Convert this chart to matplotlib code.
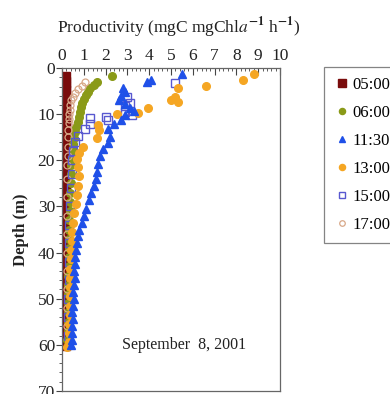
import matplotlib
matplotlib.use("Agg")
import matplotlib.pyplot as plt
from matplotlib.ticker import MultipleLocator

plt.rcParams['font.family'] = ['Liberation Serif', 'DejaVu Serif']
plt.rcParams['mathtext.fontset'] = 'stix'

# depth (m) and productivity (mgC mgChla-1 h-1) for each sampling time
d0500 = [2, 3, 4, 5, 6, 7, 8, 9, 10, 11, 12, 13, 14, 15, 16, 17, 18, 19, 20, 21,
         22, 23, 24, 25, 26, 27, 28, 29, 30, 31, 32, 33, 34, 35, 36, 37, 38, 39, 40,
         41, 42, 43, 44, 45, 46, 47, 48, 49, 50, 51, 52, 53, 54, 55, 56, 57, 58, 59, 60]
p0500 = [0.16, 0.16, 0.15, 0.15, 0.15, 0.14, 0.14, 0.14, 0.14, 0.14, 0.14, 0.13, 0.13,
         0.13, 0.13, 0.13, 0.13, 0.13, 0.13, 0.13, 0.13, 0.13, 0.13, 0.13, 0.13, 0.13,
         0.13, 0.13, 0.13, 0.13, 0.13, 0.13, 0.13, 0.13, 0.13, 0.13, 0.13, 0.13, 0.13,
         0.13, 0.13, 0.13, 0.13, 0.13, 0.13, 0.13, 0.13, 0.13, 0.13, 0.13, 0.13, 0.13,
         0.13, 0.13, 0.13, 0.13, 0.13, 0.13, 0.13]

d0600 = [1.8, 3.0, 3.7, 4.4, 5.1, 5.9, 6.7, 7.6, 8.5, 9.5, 10.5, 11.6, 12.7, 13.9,
         15.1, 16.4, 17.8, 19.3, 21, 23, 25, 27, 29, 31, 33, 35, 37, 39, 41, 43, 45,
         47, 49, 51, 53, 55, 57, 59]
p0600 = [2.3, 1.6, 1.45, 1.3, 1.18, 1.08, 1.0, 0.93, 0.87, 0.82, 0.77, 0.72, 0.66,
         0.61, 0.56, 0.52, 0.49, 0.46, 0.43, 0.41, 0.39, 0.37, 0.36, 0.35, 0.34, 0.33,
         0.32, 0.31, 0.3, 0.3, 0.29, 0.28, 0.28, 0.27, 0.27, 0.26, 0.26, 0.25]

d1130 = [1.2, 2.5, 2.9, 4.4, 5.2, 6.0, 7.0, 7.8, 8.6, 9.4, 10.2, 11.2, 12.2, 13.3,
         15.0, 16.2, 17.6, 19.0, 20.8, 22.5, 24.0, 25.5, 27.0, 28.5, 30.5, 32.0, 33.5,
         35.0, 36.5, 38.0, 39.5, 41.0, 42.5, 44.0, 45.5, 47.0, 48.5, 50.0, 51.5, 53.0,
         54.5, 56.0, 57.5, 59.0, 60.0]
p1130 = [5.5, 4.1, 3.9, 2.8, 2.9, 2.7, 2.6, 2.9, 3.1, 3.3, 2.9, 2.7, 2.4, 2.1, 2.2,
         2.1, 1.9, 1.75, 1.65, 1.6, 1.55, 1.45, 1.35, 1.25, 1.1, 1.0, 0.9, 0.8, 0.75,
         0.7, 0.65, 0.6, 0.58, 0.55, 0.6, 0.55, 0.5, 0.55, 0.5, 0.45, 0.5, 0.45, 0.45,
         0.45, 0.4]

d1300 = [1.3, 2.6, 3.9, 4.4, 6.2, 6.9, 7.3, 8.6, 9.8, 10.0, 12.3, 13.4, 15.2, 17.0,
         18.5, 19.8, 21.5, 23.5, 25.5, 27.5, 29.5, 31.5, 33.5, 35.5, 37.5, 39.5, 41.5,
         43.5, 45.5, 47.5, 49.5, 51.5, 53.5, 55.5, 57.5, 59.5, 60.5]
p1300 = [8.8, 8.3, 6.6, 5.3, 5.2, 5.0, 5.3, 3.95, 3.5, 2.5, 1.65, 1.7, 1.6, 0.95,
         0.8, 0.7, 0.75, 0.8, 0.75, 0.7, 0.65, 0.55, 0.5, 0.45, 0.45, 0.4, 0.4, 0.38,
         0.38, 0.36, 0.36, 0.35, 0.35, 0.34, 0.33, 0.3, 0.25]

d1500 = [3.3, 6.2, 7.5, 8.3, 9.5, 10.2, 10.6, 10.9, 11.3, 12.2, 13.2, 14.7, 16.0,
         18.0, 20.0, 23.0, 26.0, 30.0, 34.0, 38.0, 42.0, 46.0, 50.0, 54.0, 58.0]
p1500 = [5.2, 3.0, 3.1, 2.9, 2.9, 3.2, 2.0, 1.3, 2.1, 1.3, 1.05, 0.75, 0.6, 0.5,
         0.45, 0.45, 0.4, 0.35, 0.33, 0.32, 0.3, 0.3, 0.28, 0.28, 0.27]

d1700 = [3.0, 3.8, 4.6, 5.4, 6.2, 7.0, 8.0, 9.0, 10.0, 11.0, 12.0, 13.5, 15.0, 17.0,
         19.0, 21.0, 24.0, 28.0, 32.0, 36.0, 40.0, 44.0, 48.0, 52.0, 56.0]
p1700 = [1.05, 0.9, 0.75, 0.6, 0.5, 0.42, 0.38, 0.35, 0.33, 0.32, 0.3, 0.29, 0.28,
         0.27, 0.26, 0.25, 0.25, 0.24, 0.24, 0.23, 0.23, 0.22, 0.22, 0.21, 0.21]

fig = plt.figure(figsize=(3.9, 3.94), dpi=100)
ax = fig.add_axes([0.159, 0.008, 0.559, 0.819])

ax.plot(p0500, d0500, 's', color='#7a0c0c', ms=6.5, mec='#7a0c0c', label='05:00', zorder=2)
ax.plot(p0600, d0600, 'o', color='#8a9a18', ms=5.5, mec='#8a9a18', label='06:00', zorder=3)
ax.plot(p1700, d1700, 'o', mfc='none', mec='#d8a888', ms=5, mew=0.9, label='17:00', zorder=4)
ax.plot(p1500, d1500, 's', mfc='none', mec='#5858d0', ms=5.5, mew=1.0, label='15:00', zorder=5)
ax.plot(p1300, d1300, 'o', color='#f5a623', ms=5.5, mec='#f5a623', label='13:00', zorder=6)
ax.plot(p1130, d1130, '^', color='#1f50e8', ms=6, mec='#1f50e8', label='11:30', zorder=7)

ax.set_xlim(0, 10)
ax.set_ylim(70, 0)
ax.xaxis.tick_top()
ax.xaxis.set_major_locator(MultipleLocator(1))
ax.xaxis.set_minor_locator(MultipleLocator(0.2))
ax.yaxis.set_major_locator(MultipleLocator(10))
ax.yaxis.set_minor_locator(MultipleLocator(2))
ax.tick_params(axis='x', which='major', direction='in', length=5, width=0.8,
               labelsize=12.5, pad=3, colors='#444', labelcolor='#222')
ax.tick_params(axis='x', which='minor', direction='in', length=2.5, width=0.6, colors='#444')
ax.tick_params(axis='y', which='major', direction='out', length=4, width=0.8,
               labelsize=12.5, pad=1, colors='#444', labelcolor='#222')
ax.tick_params(axis='y', which='minor', direction='out', length=2, width=0.6, colors='#444')
for s in ax.spines.values():
    s.set_color('#666')
    s.set_linewidth(0.9)

fig.text(57 / 390, 1 - 28 / 394, 'Productivity (mgC mgChl$\\mathit{a}^{\\mathbf{-1}}$ h$^{\\mathbf{-1}}$)',
         ha='left', va='center', fontsize=12.5, color='#222')
ax.set_ylabel('Depth (m)', fontsize=12, color='#222', labelpad=6, fontweight='bold')
ax.text(5.6, 60, 'September  8, 2001', ha='center', va='center', fontsize=11.5, color='#222')

handles, labels = ax.get_legend_handles_labels()
order = ['05:00', '06:00', '11:30', '13:00', '15:00', '17:00']
hl = dict(zip(labels, handles))
leg = fig.legend([hl[k] for k in order], order, loc='upper left',
                 bbox_to_anchor=(324 / 390, 1 - 67 / 394), fontsize=12,
                 labelspacing=0.72, handletextpad=0.1, handlelength=1.0,
                 borderpad=0.6, borderaxespad=0, frameon=True, fancybox=False,
                 markerscale=0.8)
leg.get_frame().set_edgecolor('#666')
leg.get_frame().set_linewidth(0.9)

fig.savefig('out.png', dpi=100)
